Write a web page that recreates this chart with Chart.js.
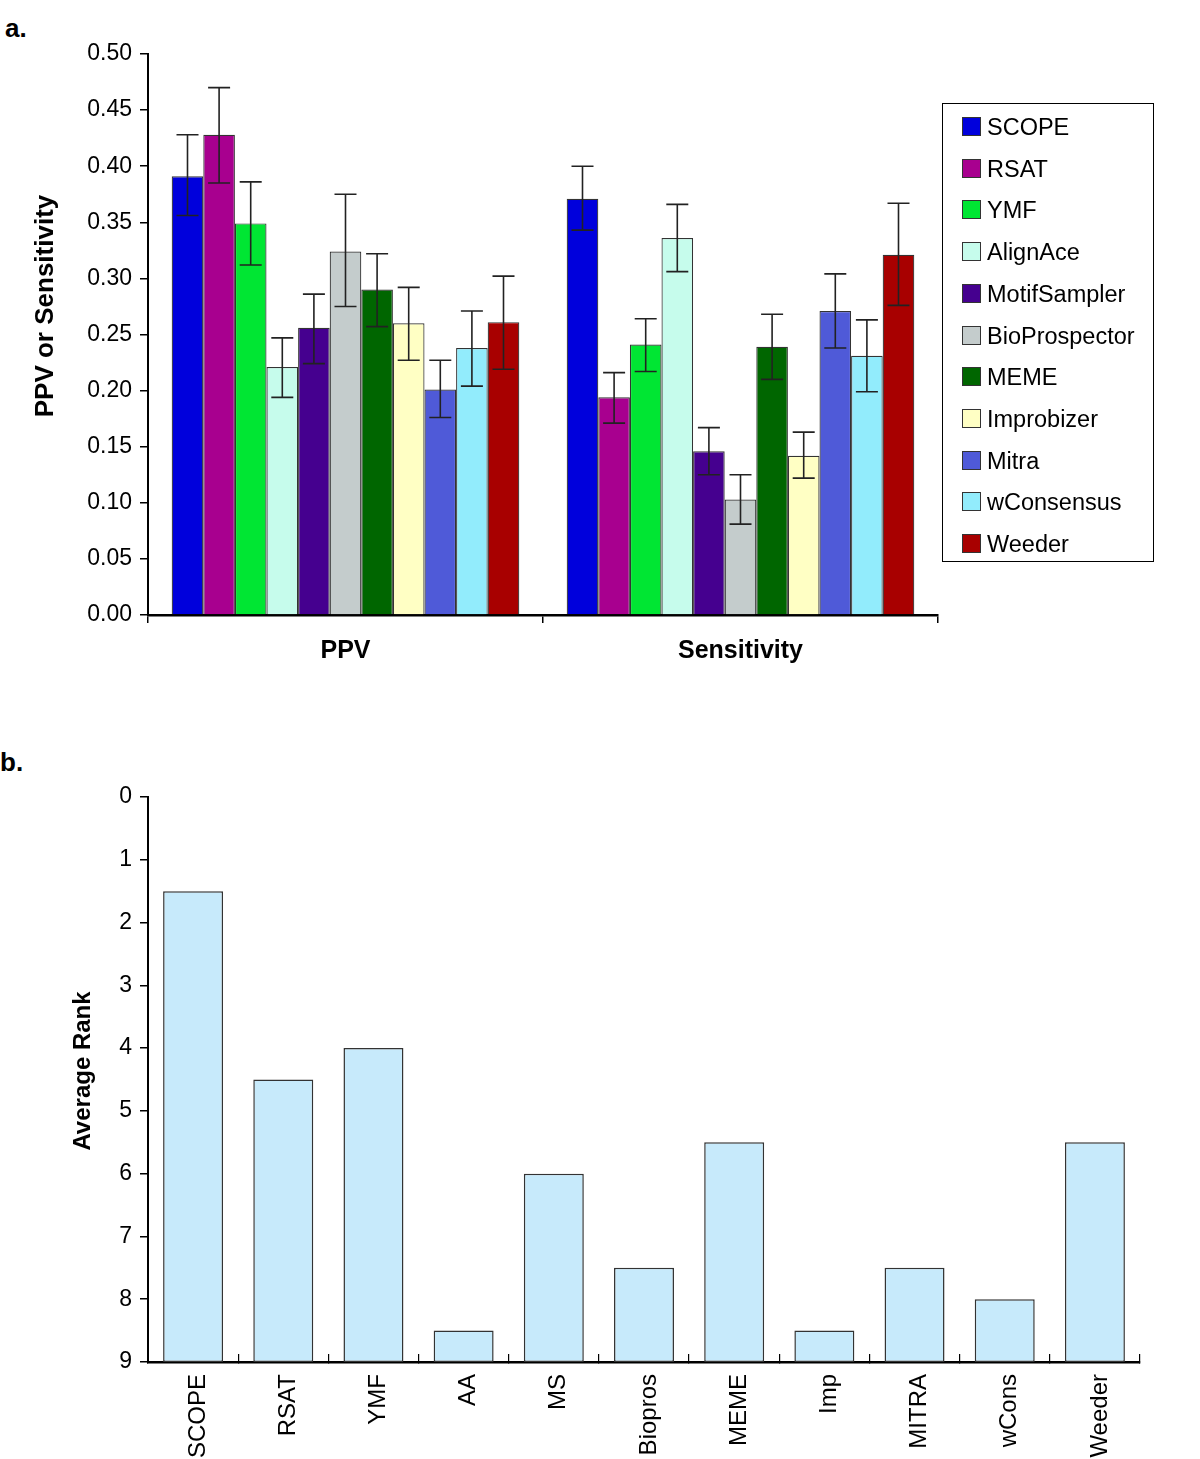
<!DOCTYPE html>
<html>
<head>
<meta charset="utf-8">
<script src="https://cdn.jsdelivr.net/npm/chart.js@4.4.1/dist/chart.umd.min.js"></script>
<style>
    body { margin: 0; background: #fff; font-family: 'Liberation Sans', Arial, sans-serif; }
    .wrap { position: relative; width: 1200px; height: 1459px; }
    .panel-label { position: absolute; font-weight: bold; font-size: 26px; }
    #chartA { position: absolute; left: 0; top: 0; }
    #chartB { position: absolute; left: 0; top: 700px; }
    #legendA {
        position: absolute; left: 942px; top: 103px; width: 210px; height: 457px;
        border: 1.5px solid #000; box-sizing: content-box;
    }
    .legend-item { position: absolute; left: 19px; height: 24px; font-size: 23.5px; line-height: 24px; color: #000; white-space: nowrap; }
    .legend-box { display: inline-block; width: 17px; height: 17px; border: 1px solid #333; vertical-align: -1px; margin-right: 6px; }
</style>
</head>
<body>
<div class="wrap">
    <div class="panel-label" style="left:5px; top:13px;">a.</div>
    <div class="panel-label" style="left:0px; top:747px;">b.</div>
    <canvas id="chartA" width="1200" height="700"></canvas>
    <div id="legendA"></div>
    <canvas id="chartB" width="1200" height="759"></canvas>
</div>
<script>
/* ========================================
   Panel a: PPV / Sensitivity per method
   Panel b: average rank per method
   ======================================== */

const methods = ["SCOPE", "RSAT", "YMF", "AlignAce", "MotifSampler", "BioProspector",
                 "MEME", "Improbizer", "Mitra", "wConsensus", "Weeder"];
const methodColors = ["#0000dc", "#a8008f", "#00e633", "#c6fcec", "#45008f", "#c4cccc",
                      "#006600", "#ffffc4", "#4f5ad8", "#92ecfc", "#a80000"];
const groups = ["PPV", "Sensitivity"];

const ppvValues = [0.391, 0.428, 0.349, 0.221, 0.256, 0.324, 0.290, 0.260, 0.201, 0.238, 0.261];
const ppvUpper  = [0.428, 0.470, 0.386, 0.247, 0.286, 0.375, 0.322, 0.292, 0.227, 0.271, 0.302];
const ppvLower  = [0.356, 0.385, 0.312, 0.194, 0.224, 0.275, 0.257, 0.227, 0.176, 0.204, 0.219];

const sensValues = [0.371, 0.194, 0.241, 0.336, 0.146, 0.103, 0.239, 0.142, 0.271, 0.231, 0.321];
const sensUpper  = [0.400, 0.216, 0.264, 0.366, 0.167, 0.125, 0.268, 0.163, 0.304, 0.263, 0.367];
const sensLower  = [0.343, 0.171, 0.217, 0.306, 0.125, 0.081, 0.210, 0.122, 0.238, 0.199, 0.276];

const yTicksA = [0, 0.05, 0.10, 0.15, 0.20, 0.25, 0.30, 0.35, 0.40, 0.45, 0.50];

const rankLabels = ["SCOPE", "RSAT", "YMF", "AA", "MS", "Biopros", "MEME", "Imp", "MITRA", "wCons", "Weeder"];
const rankValues = [1.5, 4.5, 4.0, 8.5, 6.0, 7.5, 5.5, 8.5, 7.5, 8.0, 5.5];
const yTicksB = [0, 1, 2, 3, 4, 5, 6, 7, 8, 9];

const FONT = "'Liberation Sans', Arial, sans-serif";

document.addEventListener('DOMContentLoaded', function() {
    drawPanelA();
    buildLegendA();
    drawPanelB();
});

// draws the error bars from the bar elements and the y scale
const errorBarPlugin = {
    id: 'errorBars',
    afterDatasetsDraw(chart) {
        const ctx = chart.ctx;
        const yScale = chart.scales.y;
        ctx.save();
        ctx.strokeStyle = '#222';
        ctx.lineWidth = 1.6;
        chart.data.datasets.forEach((ds, i) => {
            const meta = chart.getDatasetMeta(i);
            meta.data.forEach((bar, j) => {
                const hi = yScale.getPixelForValue(ds.errUpper[j]);
                const lo = yScale.getPixelForValue(ds.errLower[j]);
                const cap = 11;
                ctx.beginPath();
                ctx.moveTo(bar.x, hi); ctx.lineTo(bar.x, lo);
                ctx.moveTo(bar.x - cap, hi); ctx.lineTo(bar.x + cap, hi);
                ctx.moveTo(bar.x - cap, lo); ctx.lineTo(bar.x + cap, lo);
                ctx.stroke();
            });
        });
        ctx.restore();
    }
};

// rotated y-axis title, placed like the original figure (not always centred on the axis)
const sideTitlePlugin = {
    id: 'sideTitle',
    afterDraw(chart, args, opts) {
        if (!opts.text) return;
        const ctx = chart.ctx;
        ctx.save();
        ctx.translate(opts.x, opts.y);
        ctx.rotate(-Math.PI / 2);
        ctx.font = 'bold ' + opts.size + 'px ' + FONT;
        ctx.fillStyle = '#000';
        ctx.textAlign = 'center';
        ctx.textBaseline = 'middle';
        ctx.fillText(opts.text, 0, 0);
        ctx.restore();
    }
};

function drawPanelA() {
    const ctx = document.getElementById('chartA');
    const datasets = methods.map((name, i) => ({
        label: name,
        data: [ppvValues[i], sensValues[i]],
        errUpper: [ppvUpper[i], sensUpper[i]],
        errLower: [ppvLower[i], sensLower[i]],
        backgroundColor: methodColors[i],
        borderColor: '#333',
        borderWidth: 1.2,
        barPercentage: 1.0,
        categoryPercentage: 0.88
    }));

    new Chart(ctx, {
        type: 'bar',
        data: { labels: groups, datasets: datasets },
        plugins: [errorBarPlugin, sideTitlePlugin],
        options: {
            responsive: false,
            animation: false,
            layout: { padding: { top: 54, right: 262, left: 0, bottom: 0 } },
            plugins: {
                legend: { display: false },
                tooltip: { enabled: false },
                sideTitle: { text: 'PPV or Sensitivity', x: 46, y: 306, size: 26 }
            },
            scales: {
                x: {
                    afterFit: scale => { scale.height = 85; },
                    grid: { offset: true, drawOnChartArea: false, tickLength: 8, color: '#000', lineWidth: 1.5 },
                    border: { color: '#000', width: 2.5 },
                    ticks: { color: '#000', padding: 13, font: { family: FONT, size: 25, weight: 'bold' } }
                },
                y: {
                    min: 0,
                    max: 0.5,
                    afterFit: scale => { scale.width = 148; },
                    afterBuildTicks: scale => { scale.ticks = yTicksA.map(v => ({ value: v })); },
                    grid: { drawOnChartArea: false, tickLength: 8, color: '#000', lineWidth: 1.5 },
                    border: { color: '#000', width: 2 },
                    ticks: {
                        color: '#000', padding: 8,
                        font: { family: FONT, size: 23 },
                        callback: v => v.toFixed(2)
                    }
                }
            }
        }
    });
}

function buildLegendA() {
    const container = document.getElementById('legendA');
    if (!container) return;
    container.innerHTML = '';
    methods.forEach((name, i) => {
        const item = document.createElement('div');
        item.className = 'legend-item';
        item.style.top = (11 + i * 41.7) + 'px';
        item.innerHTML = `<span class="legend-box" style="background:${methodColors[i]}"></span>${name}`;
        container.appendChild(item);
    });
}

function drawPanelB() {
    const ctx = document.getElementById('chartB');

    new Chart(ctx, {
        type: 'bar',
        data: {
            labels: rankLabels,
            datasets: [{
                label: 'Average Rank',
                data: rankValues.map(v => [v, 9]),
                backgroundColor: '#c7eafb',
                borderColor: '#333',
                borderWidth: 1.5,
                borderSkipped: false,
                barPercentage: 1.0,
                categoryPercentage: 0.665
            }]
        },
        plugins: [sideTitlePlugin],
        options: {
            responsive: false,
            animation: false,
            layout: { padding: { top: 97, right: 60, left: 0, bottom: 0 } },
            plugins: {
                legend: { display: false },
                tooltip: { enabled: false },
                sideTitle: { text: 'Average Rank', x: 83, y: 371, size: 24 }
            },
            scales: {
                x: {
                    afterFit: scale => { scale.height = 97; },
                    grid: { offset: true, drawOnChartArea: false, tickLength: -8, color: '#000', lineWidth: 1.2 },
                    border: { color: '#000', width: 2.5 },
                    ticks: {
                        color: '#000', padding: 20, minRotation: 90, maxRotation: 90,
                        labelOffset: 5,
                        font: { family: FONT, size: 24 }
                    }
                },
                y: {
                    min: 0,
                    max: 9,
                    reverse: true,
                    afterFit: scale => { scale.width = 148; },
                    afterBuildTicks: scale => { scale.ticks = yTicksB.map(v => ({ value: v })); },
                    grid: { drawOnChartArea: false, tickLength: 8, color: '#000', lineWidth: 1.5 },
                    border: { color: '#000', width: 2 },
                    ticks: { color: '#000', padding: 8, font: { family: FONT, size: 23 } }
                }
            }
        }
    });
}
</script>
</body>
</html>
